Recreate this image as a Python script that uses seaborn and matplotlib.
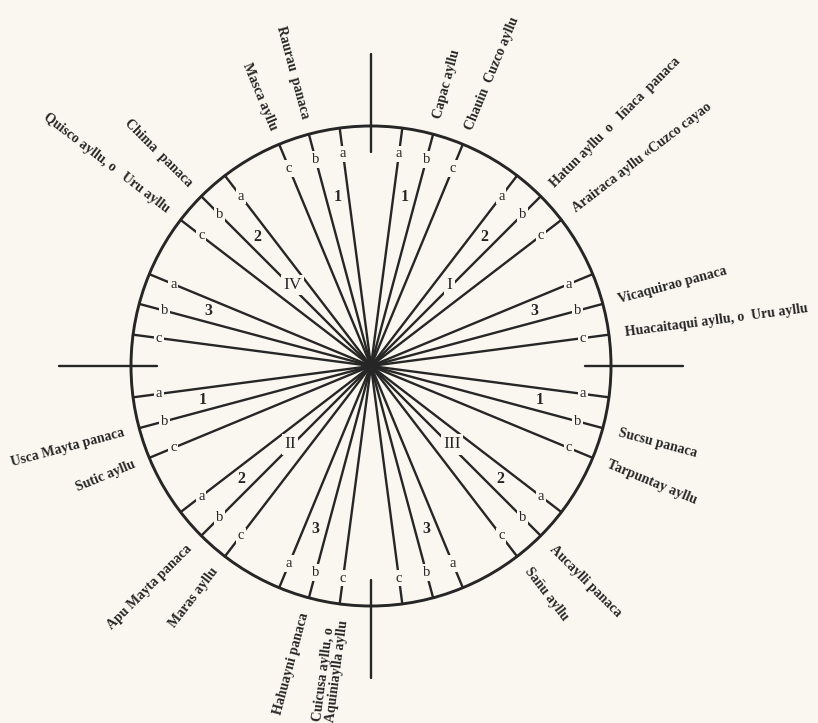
import numpy as np
import pandas as pd
import matplotlib
matplotlib.use("Agg")
import matplotlib.pyplot as plt
import seaborn as sns

# Dane: kwadranty, ceque (a, b, c) w grupach 1-3 i nazwy grup
quadrants = ["I", "II", "III", "IV"]
quadrant_start = [90, 180, 0, 90]      # od której osi liczymy
quadrant_dir = [-1, 1, -1, 1]         # kierunek liczenia kątów
spoke_names = ["1a", "1b", "1c", "2a", "2b", "2c", "3a", "3b", "3c"]
spoke_offsets = [7.5, 15, 22.5, 37.5, 45, 52.5, 67.5, 75, 82.5]
group_numbers = ["1", "2", "3"]

labels_I = [("1b", "Capac ayllu"), ("1c", "Chauin  Cuzco ayllu"),
            ("2b", "Hatun ayllu  o   Iñaca  panaca"), ("2c", "Arairaca ayllu «Cuzco cayao"),
            ("3b", "Vicaquirao panaca"), ("3c", "Huacaitaqui ayllu, o  Uru ayllu")]
labels_II = [("1b", "Usca Mayta panaca"), ("1c", "Sutic ayllu"),
             ("2b", "Apu Mayta panaca"), ("2c", "Maras ayllu"),
             ("3b", "Hahuayni panaca"), ("3c", "Cuicusa ayllu, o\nAquiniaylla ayllu")]
labels_III = [("1b", "Sucsu panaca"), ("1c", "Tarpuntay ayllu"),
              ("2b", "Aucaylli panaca"), ("2c", "Sañu ayllu")]
labels_IV = [("1b", "Raurau  panaca"), ("1c", "Masca ayllu"),
             ("2b", "Chima  panaca"), ("2c", "Quisco ayllu, o   Uru ayllu")]
quadrant_labels = [labels_I, labels_II, labels_III, labels_IV]

R = 240
bg = "#f9f7ef"
ink = "#262626"

sns.set_theme(style="white")
plt.rcParams["font.family"] = ["Liberation Serif", "DejaVu Serif"]

fig = plt.figure(figsize=(8.18, 7.23), dpi=100, facecolor=bg)
ax = fig.add_axes([0, 0, 1, 1])
ax.set_facecolor(bg)
ax.set_xlim(-371, 447)
ax.set_ylim(-357, 366)
ax.set_aspect("equal")
ax.axis("off")


def angle(q, off):
    return np.deg2rad(quadrant_start[q] + quadrant_dir[q] * off)


# Promienie (ceque)
rows = []
for q, qn in enumerate(quadrants):
    for name, off in zip(spoke_names, spoke_offsets):
        t = angle(q, off)
        rows.append({"id": qn + name, "x": 0.0, "y": 0.0})
        rows.append({"id": qn + name, "x": R * np.cos(t), "y": R * np.sin(t)})
spokes = pd.DataFrame(rows)
sns.lineplot(data=spokes, x="x", y="y", units="id", estimator=None, sort=False,
             color=ink, lw=1.7, ax=ax, legend=False)
ax.scatter([0], [0], s=70, color=ink, zorder=3, lw=0)

# Okrąg
ax.add_patch(plt.Circle((0, 0), R, fill=False, ec=ink, lw=2.1))

# Osie podziału na suyu
for t in [0, 90, 180, 270]:
    tr = np.deg2rad(t)
    ax.plot([214 * np.cos(tr), 312 * np.cos(tr)], [214 * np.sin(tr), 312 * np.sin(tr)],
            color=ink, lw=1.7)

box = dict(boxstyle="square,pad=0.12", fc=bg, ec="none")
for q, qn in enumerate(quadrants):
    # litery a, b, c
    for name, off in zip(spoke_names, spoke_offsets):
        t = angle(q, off)
        ax.text(214 * np.cos(t), 214 * np.sin(t), name[1], fontsize=10.5,
                ha="center", va="center", color=ink, bbox=box)
    # numery grup
    for g, gn in enumerate(group_numbers):
        t = angle(q, (spoke_offsets[3 * g] + spoke_offsets[3 * g + 1]) / 2)
        ax.text(172 * np.cos(t), 172 * np.sin(t), gn, fontsize=11.5, fontweight="bold",
                ha="center", va="center", color=ink)
    # cyfra rzymska
    t = angle(q, 44)
    ax.text(113 * np.cos(t), 113 * np.sin(t), qn, fontsize=12.5,
            ha="center", va="center", color=ink, bbox=box)
    # nazwy panaca i ayllu
    for spoke, text in quadrant_labels[q]:
        t = angle(q, spoke_offsets[spoke_names.index(spoke)])
        deg = np.rad2deg(t) % 360
        x, y = 256 * np.cos(t), 256 * np.sin(t)
        if np.cos(t) >= 0:
            rot = deg if deg <= 90 else deg - 360
            ha = "left"
        else:
            rot = deg - 180
            ha = "right"
        ax.text(x, y, text, rotation=rot, rotation_mode="anchor", ha=ha, va="center",
                fontsize=10, fontweight="bold", color=ink, multialignment="left",
                linespacing=0.95)

fig.savefig("out.png", dpi=100, facecolor=bg)
